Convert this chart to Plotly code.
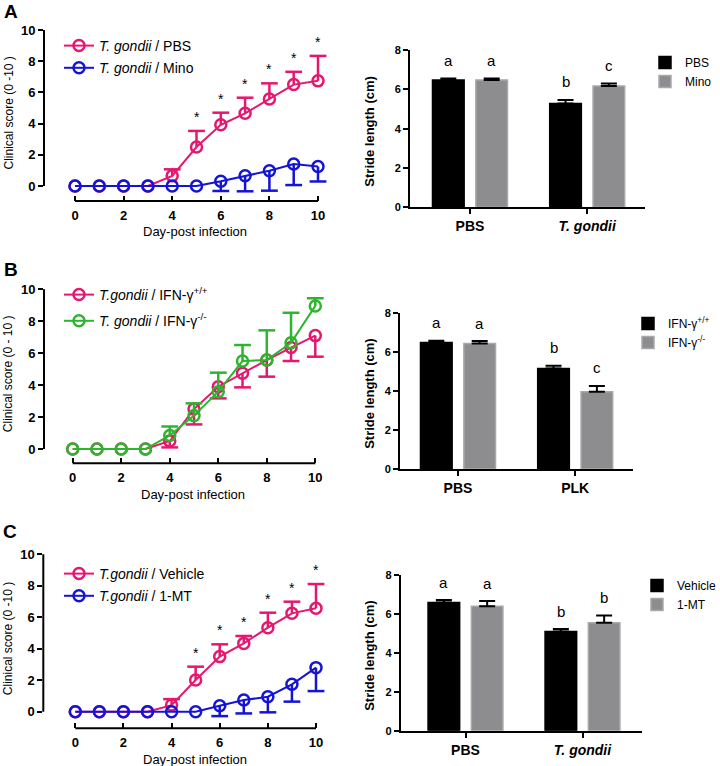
import plotly.graph_objects as go

# ---------------- data ----------------
days = [0, 1, 2, 3, 4, 5, 6, 7, 8, 9, 10]

a_pbs_mean = [0, 0, 0, 0, 0.65, 2.5, 3.92, 4.66, 5.58, 6.5, 6.74]
a_pbs_err = [0, 0, 0, 0, 0.42, 1.03, 0.78, 1.0, 1.0, 0.82, 1.6]
a_mino_mean = [0, 0, 0, 0, 0, 0, 0.3, 0.66, 0.98, 1.41, 1.25]
a_mino_err = [0, 0, 0, 0, 0, 0, 0.62, 1.0, 1.28, 1.35, 0.96]
a_sig_days = [5, 6, 7, 8, 9, 10]

b_wt_mean = [0, 0, 0, 0, 0.5, 2.5, 3.9, 4.74, 5.57, 6.35, 7.1]
b_wt_err = [0, 0, 0, 0, 0.4, 0.96, 0.73, 0.88, 1.04, 0.84, 1.32]
b_ko_mean = [0, 0, 0, 0, 0.85, 2.09, 3.59, 5.51, 5.57, 6.65, 8.96]
b_ko_err = [0, 0, 0, 0, 0.56, 0.77, 1.19, 1.0, 1.86, 1.88, 0.48]

c_veh_mean = [0, 0, 0, 0, 0.42, 2.01, 3.5, 4.34, 5.34, 6.25, 6.57]
c_veh_err = [0, 0, 0, 0, 0.38, 0.85, 0.78, 0.47, 0.95, 0.74, 1.54]
c_mt_mean = [0, 0, 0, 0, 0, 0, 0.38, 0.74, 0.95, 1.74, 2.8]
c_mt_err = [0, 0, 0, 0, 0, 0, 0.66, 0.85, 0.99, 1.1, 1.49]
c_sig_days = [5, 6, 7, 8, 9, 10]

a_groups = ["PBS", "<i>T. gondii</i>"]
a_bar_pbs = [6.48, 5.28]
a_bar_pbs_err = [0.07, 0.18]
a_bar_mino = [6.47, 6.17]
a_bar_mino_err = [0.08, 0.12]
a_letters_1 = ["a", "b"]
a_letters_2 = ["a", "c"]

b_groups = ["PBS", "PLK"]
b_bar_wt = [6.47, 5.14]
b_bar_wt_err = [0.1, 0.15]
b_bar_ko = [6.42, 3.96]
b_bar_ko_err = [0.13, 0.29]
b_letters_1 = ["a", "b"]
b_letters_2 = ["a", "c"]

c_groups = ["PBS", "<i>T. gondii</i>"]
c_bar_veh = [6.59, 5.1]
c_bar_veh_err = [0.12, 0.12]
c_bar_mt = [6.4, 5.55]
c_bar_mt_err = [0.26, 0.37]
c_letters_1 = ["a", "b"]
c_letters_2 = ["a", "b"]

# ---------------- style ----------------
W, H = 720, 766
FONT = "Arial, Liberation Sans, sans-serif"
PINK = "#e5176f"
BLUE = "#1414d6"
GREEN = "#2db52d"
GRAY = "#8d8d90"
GRAY_EDGE = "#a9a9ab"

BARGAP = 0.26
BARGROUPGAP = 0.27


def px(x):
    return x / W


def py(y):
    return 1 - y / H


fig = go.Figure()
annotations = []
shapes = []
layout = {}


def paper_text(x, y, text, size, angle=0):
    annotations.append(dict(x=px(x), y=py(y), xref="paper", yref="paper", text=text,
                            textangle=angle, showarrow=False, xanchor="center", yanchor="middle",
                            font=dict(family=FONT, size=size, color="black")))


def line_panel(idx, geom, series, sig_days, sig_series, letter, ytitle, legend_xy, legend_gap):
    left, x0, x10, right, top, y10, y0, bottom = geom
    sx = (x10 - x0) / 10.0
    sy = (y0 - y10) / 10.0
    xa = "x%d" % idx if idx > 1 else "x"
    ya = "y%d" % idx if idx > 1 else "y"
    xkey = "xaxis%d" % idx if idx > 1 else "xaxis"
    ykey = "yaxis%d" % idx if idx > 1 else "yaxis"
    lg = "legend%d" % idx if idx > 1 else "legend"
    layout[xkey] = dict(
        domain=[px(left), px(right)], anchor=ya,
        range=[(left - x0) / sx, (right - x0) / sx],
        showgrid=False, zeroline=False, showline=False,
        ticks="inside", ticklen=5, tickwidth=2, tickcolor="black",
        tickvals=[0, 2, 4, 6, 8, 10], ticklabelstandoff=5,
        tickfont=dict(family=FONT, size=13, color="black", weight="bold"),
    )
    layout[ykey] = dict(
        domain=[py(bottom), py(top)], anchor=xa,
        range=[(y0 - bottom) / sy, (y0 - top) / sy],
        showgrid=False, zeroline=False, showline=False,
        ticks="outside", ticklen=5, tickwidth=2, tickcolor="black",
        tickvals=[0, 2, 4, 6, 8, 10],
        tickfont=dict(family=FONT, size=13, color="black", weight="bold"),
    )
    shapes.append(dict(type="line", xref=xa + " domain", yref=ya, x0=0, x1=0, y0=0, y1=10,
                       line=dict(color="black", width=2)))
    shapes.append(dict(type="line", xref=xa, yref=ya + " domain", x0=0, x1=10, y0=0, y1=0,
                       line=dict(color="black", width=2)))
    for name, mean, err, color, direction in series:
        up = err if direction > 0 else [0] * len(err)
        dn = err if direction < 0 else [0] * len(err)
        fig.add_trace(go.Scatter(
            x=days, y=mean, name=name, mode="lines+markers", xaxis=xa, yaxis=ya, legend=lg,
            legendgroup=name,
            line=dict(color=color, width=2),
            marker=dict(symbol="circle-open", size=11, color=color, line=dict(width=2.5, color=color)),
            error_y=dict(type="data", symmetric=False, array=up, arrayminus=dn,
                         width=0, thickness=2.5, color=color),
            cliponaxis=False,
        ))
        cx = [d for d, e in zip(days, err) if e > 0]
        cy = [m + direction * e for m, e in zip(mean, err) if e > 0]
        fig.add_trace(go.Scatter(
            x=cx, y=cy, mode="markers", xaxis=xa, yaxis=ya, showlegend=False, hoverinfo="skip",
            marker=dict(symbol="line-ew-open", size=12, color=color, line=dict(width=2.5, color=color)),
            cliponaxis=False,
        ))
    if sig_days:
        mean, err = sig_series
        for d in sig_days:
            annotations.append(dict(x=d, y=mean[d] + err[d], xref=xa, yref=ya, text="*",
                                    showarrow=False, yshift=14, xanchor="center", yanchor="middle",
                                    font=dict(family=FONT, size=14, color="black")))
    paper_text(8, (top + bottom) / 2 + 3, ytitle, 12, -90)
    paper_text((x0 + x10) / 2 - 1, bottom + 31, "Day-post infection", 13)
    paper_text(letter[1], letter[2], "<b>%s</b>" % letter[0], 19)
    layout[lg] = dict(x=px(legend_xy[0]), y=py(legend_xy[1]), xanchor="left", yanchor="top",
                      bgcolor="rgba(0,0,0,0)", font=dict(family=FONT, size=14, color="black"),
                      itemwidth=30, tracegroupgap=legend_gap, traceorder="grouped")


def bar_panel(idx, geom, groups, series, legend_xy, cat_font):
    left, right, y8, y0, g0, gs = geom
    xa = "x%d" % idx
    ya = "y%d" % idx
    lg = "legend%d" % idx
    layout["xaxis%d" % idx] = dict(
        domain=[px(left), px(right)], anchor=ya,
        range=[(left - g0) / gs, (right - g0) / gs],
        showgrid=False, zeroline=False, showline=True, linewidth=2, linecolor="black",
        ticks="outside", ticklen=5, tickwidth=2, tickcolor="black",
        tickvals=list(range(len(groups))), ticktext=groups,
        tickfont=dict(family=FONT, size=cat_font, color="black", weight="bold"),
    )
    layout["yaxis%d" % idx] = dict(
        domain=[py(y0), py(y8)], anchor=xa, range=[0, 8],
        showgrid=False, zeroline=False, showline=True, linewidth=2, linecolor="black",
        ticks="outside", ticklen=5, tickwidth=2, tickcolor="black",
        tickvals=[0, 2, 4, 6, 8],
        tickfont=dict(family=FONT, size=11, color="black", weight="bold"),
    )
    slot = (1 - BARGAP) / 2
    for k, (name, vals, errs, letters, fill, edge) in enumerate(series):
        xs = list(range(len(groups)))
        fig.add_trace(go.Bar(
            x=xs, y=vals, name=name, xaxis=xa, yaxis=ya, legend=lg,
            marker=dict(color=fill, line=dict(color=edge, width=1.5)),
            error_y=dict(type="data", symmetric=False, array=errs, arrayminus=[0] * len(errs),
                         width=8, thickness=2, color="black"),
        ))
        off = (k - 0.5) * slot
        for i, (v, e, t) in enumerate(zip(vals, errs, letters)):
            annotations.append(dict(x=xs[i] + off, y=v + e, xref=xa, yref=ya, text=t,
                                    showarrow=False, yshift=18, xanchor="center", yanchor="middle",
                                    font=dict(family=FONT, size=15, color="black")))
    paper_text(370, (y0 + y8) / 2 + 2, "<b>Stride length (cm)</b>", 13, -90)
    layout[lg] = dict(x=px(legend_xy[0]), y=py(legend_xy[1]), xanchor="left", yanchor="top",
                      bgcolor="rgba(0,0,0,0)", font=dict(family=FONT, size=12, color="black"),
                      itemwidth=30, tracegroupgap=0)


# Panel A
line_panel(1, (44, 75, 318, 330, 20, 30, 186, 201),
           [("<i>T. gondii</i> / PBS", a_pbs_mean, a_pbs_err, PINK, 1),
            ("<i>T. gondii</i> / Mino", a_mino_mean, a_mino_err, BLUE, -1)],
           a_sig_days, (a_pbs_mean, a_pbs_err), ("A", 11, 11),
           "Clinical score (0 -10 )", (59, 30), 1)
bar_panel(2, (410, 645, 50, 207.3, 470, 117.2), a_groups,
          [("PBS", a_bar_pbs, a_bar_pbs_err, a_letters_1, "black", "black"),
           ("Mino", a_bar_mino, a_bar_mino_err, a_letters_2, GRAY, GRAY_EDGE)],
          (645, 48), 14)

# Panel B
line_panel(3, (44, 72.7, 315.3, 330, 279, 289.3, 449, 463.3),
           [("<i>T.gondii</i> / IFN-γ<sup>+/+</sup>", b_wt_mean, b_wt_err, PINK, -1),
            ("<i>T. gondii</i> / IFN-γ<sup>-/-</sup>", b_ko_mean, b_ko_err, GREEN, 1)],
           [], None, ("B", 11, 269),
           "Clinical score (0 - 10 )", (59, 279), 5)
bar_panel(4, (400, 633, 312.7, 469, 458, 117.2), b_groups,
          [("IFN-γ<sup>+/+</sup>", b_bar_wt, b_bar_wt_err, b_letters_1, "black", "black"),
           ("IFN-γ<sup>-/-</sup>", b_bar_ko, b_bar_ko_err, b_letters_2, GRAY, GRAY_EDGE)],
          (628, 309), 14)

# Panel C
line_panel(5, (43.3, 75.3, 316, 330, 544, 554.3, 711.7, 728.3),
           [("<i>T.gondii</i> / Vehicle", c_veh_mean, c_veh_err, PINK, 1),
            ("<i>T.gondii</i> / 1-MT", c_mt_mean, c_mt_err, BLUE, -1)],
           c_sig_days, (c_veh_mean, c_veh_err), ("C", 10, 531),
           "Clinical score (0 -10 )", (59, 558), 1)
bar_panel(6, (400.7, 641.7, 575, 730.7, 465.5, 117), c_groups,
          [("Vehicle", c_bar_veh, c_bar_veh_err, c_letters_1, "black", "black"),
           ("1-MT", c_bar_mt, c_bar_mt_err, c_letters_2, GRAY, GRAY_EDGE)],
          (637, 571), 14)

fig.update_layout(
    width=W, height=H,
    margin=dict(l=0, r=0, t=0, b=0, autoexpand=False),
    paper_bgcolor="white", plot_bgcolor="rgba(0,0,0,0)",
    barmode="group", bargap=BARGAP, bargroupgap=BARGROUPGAP,
    font=dict(family=FONT, color="black"),
    annotations=annotations, shapes=shapes,
    **layout,
)

fig.write_html("out.html", config={"displayModeBar": False},
               post_script="document.body.style.margin='0';")
